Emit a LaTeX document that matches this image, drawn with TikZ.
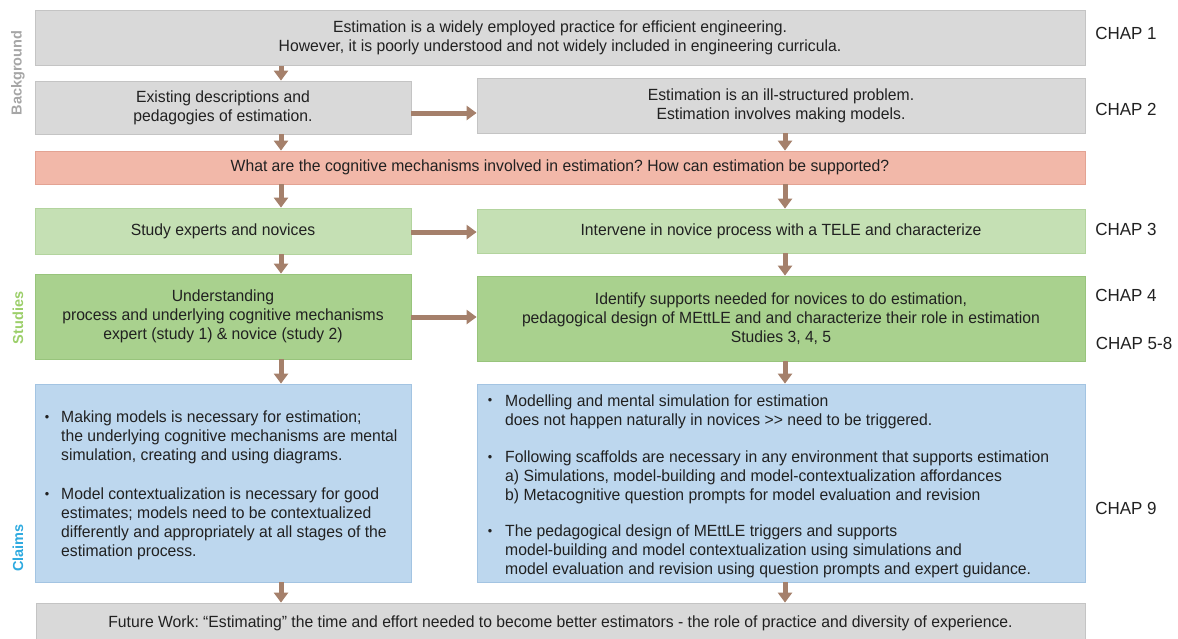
\documentclass[tikz,border=0pt]{standalone}
\usepackage{fontspec}
\setmainfont{Liberation Sans}[FakeStretch=0.97]
\newfontfamily\sidefont{Liberation Sans}
\usetikzlibrary{arrows.meta}
\frenchspacing

\definecolor{txt}{HTML}{212121}
\definecolor{grayfill}{HTML}{D9D9D9}
\definecolor{grayline}{HTML}{C4C4C4}
\definecolor{redfill}{HTML}{F2B8A9}
\definecolor{redline}{HTML}{E3A393}
\definecolor{lgreenfill}{HTML}{C5E0B4}
\definecolor{lgreenline}{HTML}{B3D49E}
\definecolor{dgreenfill}{HTML}{A9D18E}
\definecolor{dgreenline}{HTML}{98C47C}
\definecolor{bluefill}{HTML}{BDD7EE}
\definecolor{blueline}{HTML}{A3C4E2}
\definecolor{arrowc}{HTML}{A5806B}
\definecolor{sidegray}{HTML}{A6A6A6}
\definecolor{sidegreen}{HTML}{9CCF6A}
\definecolor{sideblue}{HTML}{2EAAE0}

\newcommand\bodyfs{\fontsize{16.2}{19}\selectfont}
\newcommand\chapfs{\fontsize{17.5}{20}\selectfont}

\tikzset{
  box/.style={draw=#1line, fill=#1fill, line width=0.8pt, inner sep=0pt,
    align=center, font=\bodyfs, text=txt},
  para/.style={anchor=north west, inner sep=0pt, align=left, font=\bodyfs, text=txt},
  bul/.style={inner sep=0pt, font=\fontsize{13}{15}\selectfont, text=txt},
  chap/.style={inner sep=0pt, font=\chapfs, text=txt},
  side/.style={inner sep=0pt, rotate=90, font=\sidefont\bfseries\fontsize{14.5}{16}\selectfont},
  arr/.style={draw=arrowc, line width=5pt, -{Triangle[width=14pt,length=10pt]}},
}

\begin{document}
\begin{tikzpicture}[x=1pt,y=-1pt]
\useasboundingbox (0,0) rectangle (1178,638);
\fill[white] (0,0) rectangle (1178,638);

% column and row guides for the connectors
\coordinate (colL) at (281,0);
\coordinate (colR) at (785,0);
\coordinate (rowA) at (0,113);
\coordinate (rowB) at (0,232);
\coordinate (rowC) at (0,317);

% background
\node[box=gray, minimum width=1050pt, minimum height=55pt] (motiv) at (560,38)
  {Estimation is a widely employed practice for efficient engineering.\\
   However, it is poorly understood and not widely included in engineering curricula.};
\node[box=gray, minimum width=376pt, minimum height=53pt] (exist) at (223,107.5)
  {Existing descriptions and\\ pedagogies of estimation.};
\node[box=gray, minimum width=608pt, minimum height=55pt] (illstr) at (781,105.5)
  {Estimation is an ill-structured problem.\\ Estimation involves making models.};
\node[box=red, minimum width=1050pt, minimum height=33pt] (question) at (560,167.5)
  {What are the cognitive mechanisms involved in estimation? How can estimation be supported?};

% studies
\node[box=lgreen, minimum width=376pt, minimum height=46pt] (study) at (223,231)
  {Study experts and novices};
\node[box=lgreen, minimum width=608pt, minimum height=44pt] (interv) at (781,231)
  {Intervene in novice process with a TELE and characterize};
\node[box=dgreen, minimum width=376pt, minimum height=85pt] (underst) at (223,316.5)
  {Understanding\\ process and underlying cognitive mechanisms\\ expert (study 1) \& novice (study 2)};
\node[box=dgreen, minimum width=608pt, minimum height=85pt] (ident) at (781,318.5)
  {Identify supports needed for novices to do estimation,\\
   pedagogical design of MEttLE and and characterize their role in estimation\\
   Studies 3, 4, 5};

% claims
\node[box=blue, minimum width=376pt, minimum height=198pt] (claimL) at (223,483) {};
\node[box=blue, minimum width=608pt, minimum height=198pt] (claimR) at (781,483) {};

\node[bul] (bL1) at (47,418) {\textbullet};
\node[para] (pL1) at (61,411)
  {Making models is necessary for estimation;\\
   the underlying cognitive mechanisms are mental\\
   simulation, creating and using diagrams.};
\node[bul] (bL2) at (47,495) {\textbullet};
\node[para] (pL2) at (61,488)
  {Model contextualization is necessary for good\\
   estimates; models need to be contextualized\\
   differently and appropriately at all stages of the\\
   estimation process.};

\node[bul] (bR1) at (490,401) {\textbullet};
\node[para] (pR1) at (505,394.5)
  {Modelling and mental simulation for estimation\\
   does not happen naturally in novices >{}> need to be triggered.};
\node[bul] (bR2) at (490,458) {\textbullet};
\node[para] (pR2) at (505,451)
  {Following scaffolds are necessary in any environment that supports estimation\\
   a) Simulations, model-building and model-contextualization affordances\\
   b) Metacognitive question prompts for model evaluation and revision};
\node[bul] (bR3) at (490,532) {\textbullet};
\node[para] (pR3) at (505,525)
  {The pedagogical design of MEttLE triggers and supports\\
   model-building and model contextualization using simulations and\\
   model evaluation and revision using question prompts and expert guidance.};

% future work
\node[box=gray, minimum width=1049pt, minimum height=40pt] (future) at (560.5,623)
  {Future Work: “Estimating” the time and effort needed to become better estimators - the role of practice and diversity of experience.};

% chapter labels
\node[chap] (c1) at (1126,33) {CHAP 1};
\node[chap] (c2) at (1126,109) {CHAP 2};
\node[chap] (c3) at (1126,229) {CHAP 3};
\node[chap] (c4) at (1126,295) {CHAP 4};
\node[chap] (c58) at (1134,343) {CHAP 5-8};
\node[chap] (c9) at (1126,508) {CHAP 9};

% section labels
\node[side, text=sidegray] (sBack) at (18,73) {Background};
\node[side, text=sidegreen] (sStud) at (18,318) {Studies};
\node[side, text=sideblue] (sClaim) at (18,548) {Claims};

% connectors
\draw[arr] (motiv.south -| colL) -- (exist.north -| colL);
\draw[arr] (exist.south -| colL) -- (question.north -| colL);
\draw[arr] (illstr.south -| colR) -- (question.north -| colR);
\draw[arr] (exist.east |- rowA) -- (illstr.west |- rowA);
\draw[arr] (question.south -| colL) -- (study.north -| colL);
\draw[arr] (question.south -| colR) -- (interv.north -| colR);
\draw[arr] (study.east |- rowB) -- (interv.west |- rowB);
\draw[arr] (study.south -| colL) -- (underst.north -| colL);
\draw[arr] (interv.south -| colR) -- (ident.north -| colR);
\draw[arr] (underst.east |- rowC) -- (ident.west |- rowC);
\draw[arr] (underst.south -| colL) -- (claimL.north -| colL);
\draw[arr] (ident.south -| colR) -- (claimR.north -| colR);
\draw[arr] (claimL.south -| colL) -- (future.north -| colL);
\draw[arr] (claimR.south -| colR) -- (future.north -| colR);
\end{tikzpicture}
\end{document}
